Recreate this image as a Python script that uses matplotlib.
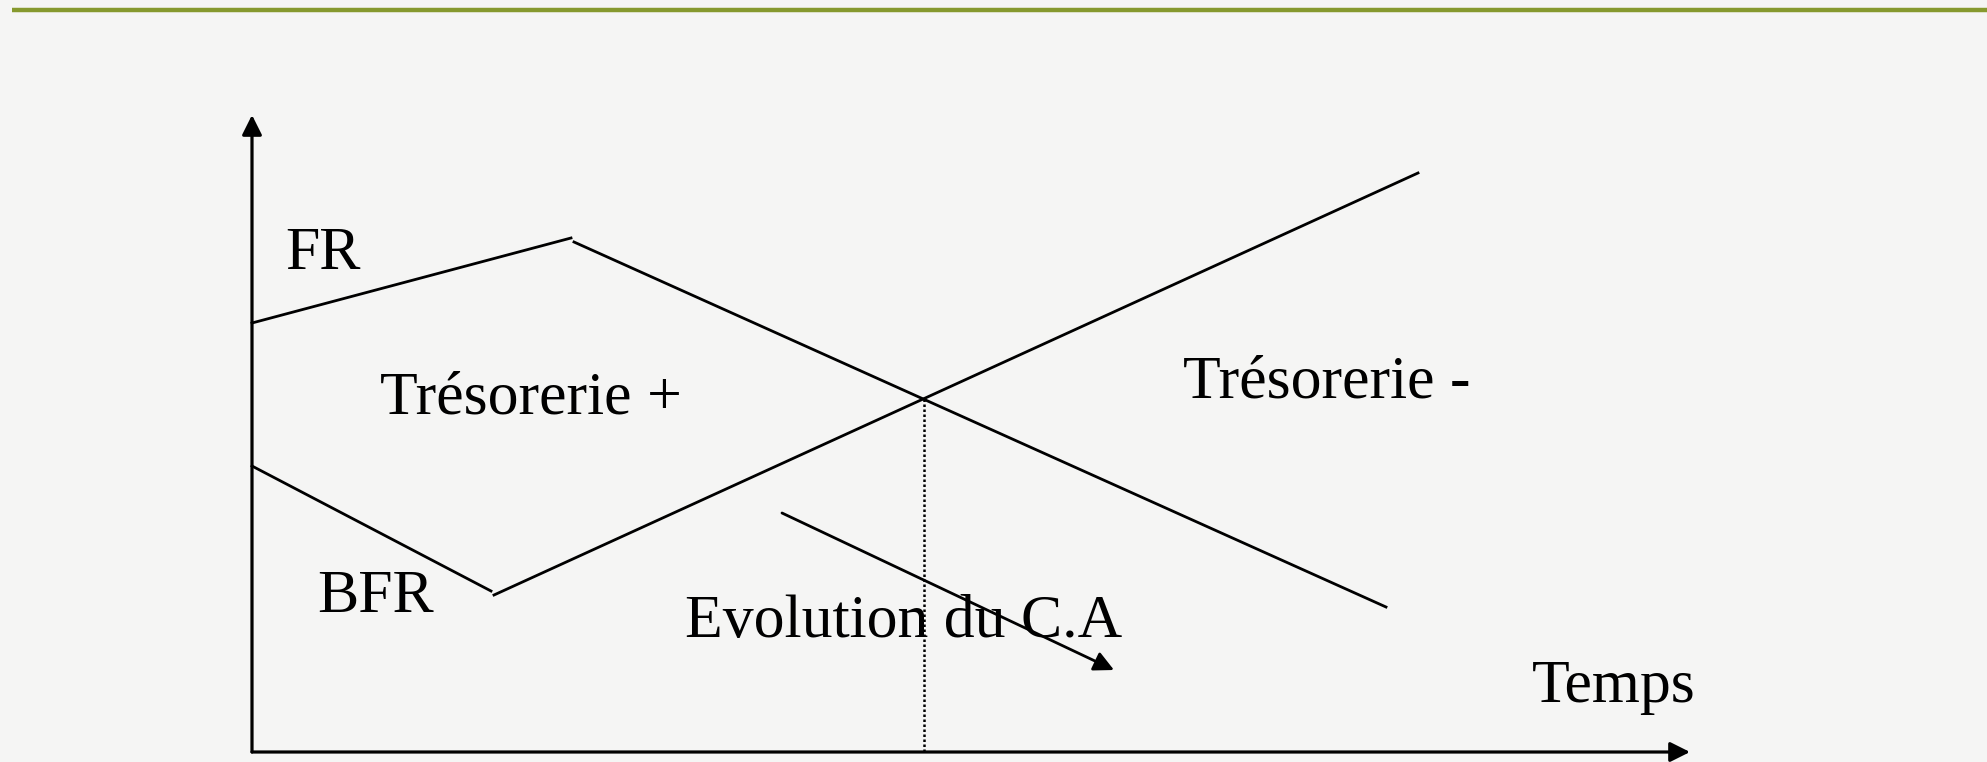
import matplotlib
matplotlib.use("Agg")
import matplotlib.pyplot as plt

# schematic coordinates (pixel-like, y grows downward)
origin = (252, 752)
y_axis_top = (252, 115)
x_axis_end = (1690, 752)

fr_rise_x = [252, 571]
fr_rise_y = [323, 238]
fr_fall_x = [574, 1386]
fr_fall_y = [242, 607]

bfr_fall_x = [252, 491]
bfr_fall_y = [466, 591]
bfr_rise_x = [494, 1418]
bfr_rise_y = [595, 173]

cross = (924, 399)

ca_start = (782, 513)
ca_end = (1114, 670)

labels = ["FR", "Trésorerie +", "Trésorerie -", "BFR", "Evolution du C.A", "Temps"]
label_x = [285, 380, 1183, 317, 685, 1532]
label_y = [269, 413, 397, 612, 637, 702]

W, H, DPI = 1987, 762, 100
bg = "#f5f5f4"

fig = plt.figure(figsize=(W / DPI, H / DPI), dpi=DPI, facecolor=bg)
ax = fig.add_axes([0, 0, 1, 1])
ax.set_facecolor(bg)
ax.set_xlim(0, W)
ax.set_ylim(H, 0)
ax.axis("off")

# green rule at the top
ax.plot([12, W], [10, 10], color="#86992e", lw=3.2, solid_capstyle="butt")

arrow = dict(arrowstyle="-|>", color="black", lw=2.3,
             mutation_scale=30, shrinkA=0, shrinkB=0)

# axes
ax.annotate("", xy=y_axis_top, xytext=origin, arrowprops=arrow)
ax.annotate("", xy=x_axis_end, xytext=origin, arrowprops=arrow)

# FR and BFR curves
lw = 2.0
ax.plot(fr_rise_x, fr_rise_y, color="black", lw=lw)
ax.plot(fr_fall_x, fr_fall_y, color="black", lw=lw)
ax.plot(bfr_fall_x, bfr_fall_y, color="black", lw=lw)
ax.plot(bfr_rise_x, bfr_rise_y, color="black", lw=lw)

# dotted drop from crossing point
ax.plot([cross[0], cross[0]], [cross[1], origin[1]], color="black",
        lw=1.8, linestyle=(0, (1, 1)))

# turnover evolution arrow
arrow2 = dict(arrow, lw=2.0, mutation_scale=30)
ax.annotate("", xy=ca_end, xytext=ca_start, arrowprops=arrow2)

for txt, x, y in zip(labels, label_x, label_y):
    ax.text(x, y, txt, fontsize=44.5, family="Liberation Serif",
            ha="left", va="baseline", color="black")

fig.savefig("out.png", dpi=DPI, facecolor=bg)
